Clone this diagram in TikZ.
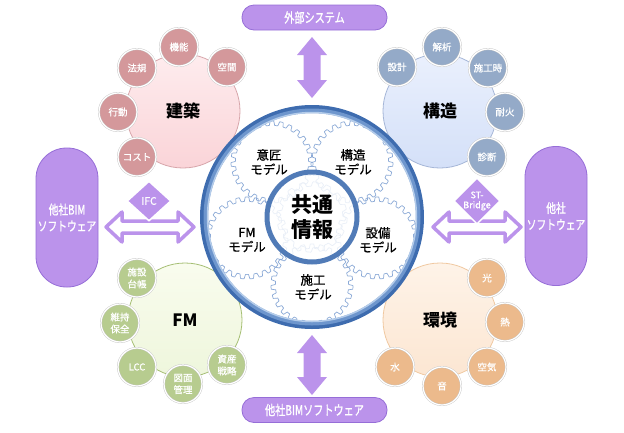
\documentclass[tikz,border=0pt]{standalone}
\usepackage{fontspec}
\setmainfont{Noto Sans CJK JP}
\newfontfamily\narrowjp{Noto Sans CJK JP}[FakeStretch=0.75, FakeBold=1.2]
\newfontfamily\mediumjp{Noto Sans CJK JP}[FakeBold=0.8]
\usetikzlibrary{shapes.geometric}

\definecolor{lilac}{RGB}{187,147,235}
\definecolor{lilacline}{RGB}{150,110,215}
\definecolor{rosetop}{RGB}{254,236,238}
\definecolor{rosebot}{RGB}{250,212,216}
\definecolor{roseline}{RGB}{215,165,170}
\definecolor{rosedot}{RGB}{212,152,155}
\definecolor{bluetop}{RGB}{234,240,253}
\definecolor{bluebot}{RGB}{212,224,248}
\definecolor{blueline}{RGB}{165,182,215}
\definecolor{bluedot}{RGB}{148,170,200}
\definecolor{greentop}{RGB}{249,252,238}
\definecolor{greenbot}{RGB}{238,246,220}
\definecolor{greenline}{RGB}{165,190,115}
\definecolor{greendot}{RGB}{183,204,143}
\definecolor{orangetop}{RGB}{254,243,232}
\definecolor{orangebot}{RGB}{252,230,210}
\definecolor{orangeline}{RGB}{240,200,160}
\definecolor{orangedot}{RGB}{236,186,140}
\definecolor{ringdark}{RGB}{62,108,175}
\definecolor{ringmid}{RGB}{110,150,205}
\definecolor{ringlight}{RGB}{180,204,234}
\definecolor{gearblue}{RGB}{140,170,215}

\begin{document}
\begin{tikzpicture}[
    x=1pt,
    y=-1pt,
    line join=round,
    banner/.style={
        draw=lilacline,
        line width=0.8pt,
        fill=lilac,
        rounded corners=12pt,
        minimum width=145pt,
        minimum height=25pt,
        inner sep=0pt,
        text=white,
        font=\narrowjp\fontsize{13.5}{15}\selectfont
    },
    pill/.style={
        draw=lilacline,
        line width=0.8pt,
        fill=lilac,
        rounded corners=30.5pt,
        minimum width=62pt,
        minimum height=139pt,
        inner sep=0pt,
        align=center,
        text=white,
        font=\narrowjp\fontsize{13}{16.5}\selectfont
    },
    tag/.style={
        diamond,
        fill=lilac,
        draw=white,
        line width=1.5pt,
        minimum width=44pt,
        minimum height=40pt,
        inner sep=0pt,
        align=center,
        text=white
    },
    hollowarrow/.style={
        draw=lilac,
        line width=3.5pt,
        fill=white
    },
    solidarrow/.style={
        fill=lilac
    },
    mainc/.style={
        circle,
        minimum size=114pt,
        inner sep=0pt,
        line width=0.8pt,
        font=\bfseries\fontsize{17}{20}\selectfont
    },
    dot/.style={
        circle,
        minimum size=38pt,
        inner sep=0pt,
        draw=black!22,
        double=white,
        double distance=1.2pt,
        align=center,
        text=white,
        font=\mediumjp\fontsize{9.5}{12}\selectfont
    },
    pinkmain/.style={mainc, draw=roseline, top color=rosetop, bottom color=rosebot},
    pinkdot/.style={dot, fill=rosedot},
    bluemain/.style={mainc, draw=blueline, top color=bluetop, bottom color=bluebot},
    bluedot/.style={dot, fill=bluedot},
    greenmain/.style={mainc, draw=greenline, top color=greentop, bottom color=greenbot},
    greendot/.style={dot, fill=greendot},
    orangemain/.style={mainc, draw=orangeline, top color=orangetop, bottom color=orangebot},
    orangedot/.style={dot, fill=orangedot},
    gear/.style={
        draw=gearblue,
        line width=0.7pt
    },
    model/.style={
        align=center,
        font=\mediumjp\fontsize{12.5}{14.5}\selectfont
    }
]

\useasboundingbox (0,0) rectangle (624,432);

% -------------------------------------------------
% External systems (top, bottom, left, right)
% -------------------------------------------------

\node[banner] (gaibu) at (314.5,17.5) {外部システム};
\node[banner] (tashabim) at (314.5,410) {他社BIMソフトウェア};

\node[pill] (leftsoft) at (67,217.5) {他社BIM\\ソフトウェア};
\node[pill] (rightsoft) at (556,216) {他社\\ソフトウェア};

% -------------------------------------------------
% Exchange arrows
% -------------------------------------------------

\path[solidarrow]
    (312,37) -- (327,55) -- (320.5,55) -- (320.5,80) -- (327,80)
    -- (312,98) -- (297,80) -- (303.5,80) -- (303.5,55) -- (297,55)
    -- cycle;

\path[solidarrow]
    (312,335) -- (327,353) -- (320.5,353) -- (320.5,377) -- (327,377)
    -- (312,395) -- (297,377) -- (303.5,377) -- (303.5,353) -- (297,353)
    -- cycle;

\path[hollowarrow]
    (106,227) -- (122,212) -- (122,221) -- (178,221) -- (178,212)
    -- (194,227) -- (178,242) -- (178,233) -- (122,233) -- (122,242)
    -- cycle;

\path[hollowarrow]
    (433,227) -- (449,212) -- (449,221) -- (505,221) -- (505,212)
    -- (521,227) -- (505,242) -- (505,233) -- (449,233) -- (449,242)
    -- cycle;

\node[tag, font=\mediumjp\fontsize{10.5}{12}\selectfont] (ifc) at (149,201) {IFC};
\node[tag, font=\mediumjp\fontsize{9}{10}\selectfont] (stbridge) at (477,201) {ST-\\Bridge};

% -------------------------------------------------
% Kenchiku (pink)
% -------------------------------------------------

\node[pinkmain] (kenchiku) at (183,111) {建築};
\node[pinkdot] (kino) at (179,47) {機能};
\node[pinkdot] (kukan) at (227,67) {空間};
\node[pinkdot] (hoki) at (137,68) {法規};
\node[pinkdot] (kodo) at (118,112) {行動};
\node[pinkdot] (cost) at (137,157) {コスト};

% -------------------------------------------------
% Kozo (blue)
% -------------------------------------------------

\node[bluemain] (kozo) at (440,111) {構造};
\node[bluedot] (kaiseki) at (442,47) {解析};
\node[bluedot] (sekkei) at (397,67) {設計};
\node[bluedot] (sekoji) at (488,68) {施工時};
\node[bluedot] (taika) at (505,112) {耐火};
\node[bluedot] (shindan) at (487,157) {診断};

% -------------------------------------------------
% FM (green)
% -------------------------------------------------

\node[greenmain] (fm) at (185,320) {FM};
\node[greendot] (daicho) at (137,278) {施設\\台帳};
\node[greendot] (hozen) at (120,323) {維持\\保全};
\node[greendot] (lcc) at (137,367) {LCC};
\node[greendot] (zumen) at (183,384) {図面\\管理};
\node[greendot] (senryaku) at (227,365) {資産\\戦略};

% -------------------------------------------------
% Kankyo (orange)
% -------------------------------------------------

\node[orangemain] (kankyo) at (440,320) {環境};
\node[orangedot] (hikari) at (487,278) {光};
\node[orangedot] (netsu) at (505,322) {熱};
\node[orangedot] (kuki) at (487,367) {空気};
\node[orangedot] (oto) at (442,386) {音};
\node[orangedot] (mizu) at (395,367) {水};

% -------------------------------------------------
% Model gears round the shared information
% -------------------------------------------------

\fill[white] (312,217) circle (104);

\foreach \gx/\gy in {272/162, 352/162, 377/238, 247/238, 312/285}
    \draw[gear, shift={(\gx,\gy)}]
        plot[domain=0:360, samples=621]
        (\x:{38.8+2.2*max(-1,min(1,2.5*sin(27*\x)))}) -- cycle;

\draw[gear, shift={(312,217)}]
    plot[domain=0:360, samples=361]
    (\x:{33+2.2*max(-1,min(1,2.5*sin(16*\x)))}) -- cycle;

\node[model] (isho) at (269,162) {意匠\\モデル};
\node[model] (kozomodel) at (353,162) {構造\\モデル};
\node[model] (setsubi) at (378,240) {設備\\モデル};
\node[model] (fmmodel) at (247,240) {FM\\モデル};
\node[model] (seko) at (313,287) {施工\\モデル};

% -------------------------------------------------
% Rings
% -------------------------------------------------

\draw[ringdark, line width=8pt] (312,217) circle (108);
\draw[ringmid, line width=4pt] (312,217) circle (106.5);
\draw[ringlight, line width=1.5pt] (312,217) circle (104.5);

\node[circle, minimum size=90pt, inner sep=0pt,
      draw=ringdark!90!white, line width=5pt,
      fill=white, fill opacity=0.82, text opacity=1,
      align=center, font=\bfseries\fontsize{21}{25}\selectfont]
    (kyotsu) at (312,217) {共通\\情報};

\end{tikzpicture}
\end{document}
